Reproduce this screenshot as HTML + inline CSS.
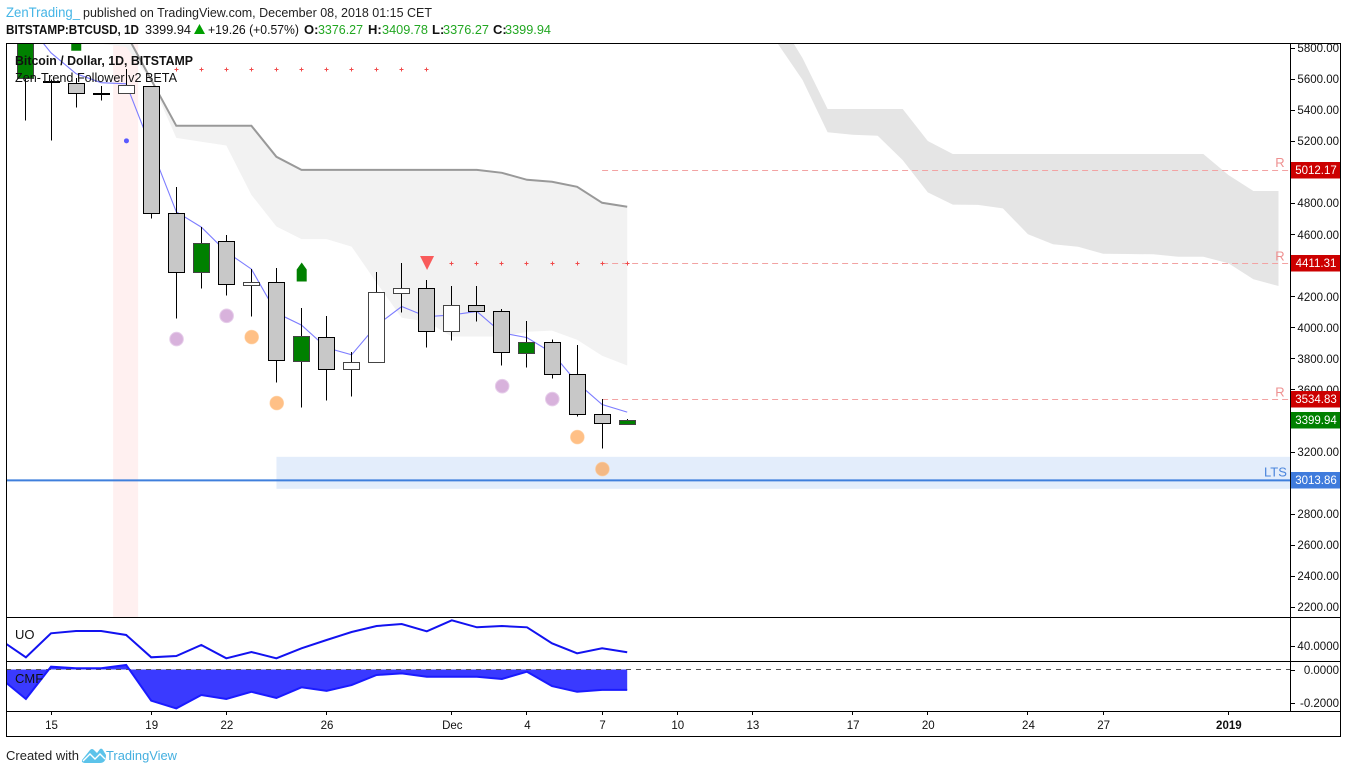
<!DOCTYPE html>
<html lang="en">
<head>
<meta charset="utf-8">
<title>BTCUSD chart</title>
<style>
html,body{margin:0;padding:0;background:#fff;width:1348px;height:773px;overflow:hidden}
svg{display:block;font-family:"Liberation Sans",Arial,sans-serif}
</style>
</head>
<body>
<svg id="chart" xmlns="http://www.w3.org/2000/svg" width="1348" height="773" viewBox="0 0 1348 773">
  <defs>
    <clipPath id="clip-main"><rect x="7" y="44" width="1283" height="573"/></clipPath>
    <clipPath id="clip-uo"><rect x="7" y="618" width="1283" height="43"/></clipPath>
    <clipPath id="clip-cmf"><rect x="7" y="662" width="1283" height="49"/></clipPath>
  </defs>
  <rect width="1348" height="773" fill="#ffffff"/>
  <g id="main" clip-path="url(#clip-main)"></g>
  <g id="uo" clip-path="url(#clip-uo)"></g>
  <g id="cmf" clip-path="url(#clip-cmf)"></g>
  <g fill="none" stroke="#000" stroke-width="1" shape-rendering="crispEdges">
    <rect x="6.5" y="43.5" width="1334" height="693"/>
    <line x1="1290.5" y1="43" x2="1290.5" y2="711"/>
    <line x1="6" y1="617.5" x2="1341" y2="617.5"/>
    <line x1="6" y1="661.5" x2="1341" y2="661.5"/>
    <line x1="6" y1="711.5" x2="1341" y2="711.5"/>
  </g>
  <g id="yaxis"></g>
  <g id="xaxis"></g>
  <g id="tags"></g>

  <g font-size="13">
    <text x="6" y="17" fill="#45b5e6" font-size="13.5" textLength="74" lengthAdjust="spacingAndGlyphs">ZenTrading_</text>
    <text x="83" y="17" fill="#222" textLength="349" lengthAdjust="spacingAndGlyphs">published on TradingView.com, December 08, 2018 01:15 CET</text>
    <text x="6" y="34" font-weight="bold" fill="#111" textLength="133" lengthAdjust="spacingAndGlyphs">BITSTAMP:BTCUSD, 1D</text>
    <text x="145" y="34" fill="#111" textLength="46" lengthAdjust="spacingAndGlyphs">3399.94</text>
    <polygon points="194,34 199.5,24 205,34" fill="#00a000"/>
    <text x="208" y="34" fill="#111" textLength="91" lengthAdjust="spacingAndGlyphs">+19.26 (+0.57%)</text>
    <text x="304" y="34" font-weight="bold" fill="#111">O:</text>
    <text x="318" y="34" fill="#22a722" textLength="45" lengthAdjust="spacingAndGlyphs">3376.27</text>
    <text x="368" y="34" font-weight="bold" fill="#111">H:</text>
    <text x="382" y="34" fill="#22a722" textLength="46" lengthAdjust="spacingAndGlyphs">3409.78</text>
    <text x="432" y="34" font-weight="bold" fill="#111">L:</text>
    <text x="443" y="34" fill="#22a722" textLength="46" lengthAdjust="spacingAndGlyphs">3376.27</text>
    <text x="493" y="34" font-weight="bold" fill="#111">C:</text>
    <text x="505" y="34" fill="#22a722" textLength="46" lengthAdjust="spacingAndGlyphs">3399.94</text>
  </g>

  <g font-size="13" fill="#111">
    <text x="15" y="65" font-weight="bold" textLength="178" lengthAdjust="spacingAndGlyphs">Bitcoin / Dollar, 1D, BITSTAMP</text>
    <text x="15" y="82" textLength="162" lengthAdjust="spacingAndGlyphs">Zen-Trend Follower v2 BETA</text>
    <text x="15" y="639">UO</text>
    <text x="15" y="683">CMF</text>
  </g>

  <g>
    <text x="6" y="760" font-size="13" fill="#222" textLength="73" lengthAdjust="spacingAndGlyphs">Created with</text>
    <path d="M82 760 L90 750 Q92 748 94 750 L97 753 L100 749 Q102 748 103 750 L106 755 Q106 763 100 763 L86 763 Q81 763 82 760 Z" fill="#5cc3ea"/>
    <path d="M83 761 L90 754 L95 759 L100 754 L105 759" fill="none" stroke="#ffffff" stroke-width="1.4"/>
    <text x="106" y="760" font-size="13" fill="#45b0e0" textLength="71" lengthAdjust="spacingAndGlyphs">TradingView</text>
  </g>
</svg>

<script>
// ---- Price series (day index 0 = Nov 14, 2018) ----
const opens  = [5607,5589,5573,5512,5508,5553,4736,4355,4555,4272,4291,3782,3937,3731,3776,4220,4253,3976,4143,4104,3834,3905,3699,3441,3376.27];
const highs  = [6200,5595,5607,5555,5663,5553,4905,4645,4594,4375,4381,4124,4072,3840,4355,4415,4306,4267,4267,4119,4042,3920,3887,3538,3409.78];
const lows   = [5332,5203,5416,5461,5508,4701,4057,4250,4205,4070,3644,3484,3529,3554,3776,4095,3870,3915,4037,3754,3741,3670,3426,3218,3376.27];
const closes = [6100,5589,5508,5512,5560,4736,4355,4542,4278,4291,3789,3943,3731,3776,4227,4253,3976,4143,4104,3840,3905,3699,3441,3383,3399.94];
const candleKinds = ['signal','down','down','down','up','down','down','signal','down','up','down','signal','down','up','up','up','down','up','down','down','signal','down','down','down','signal'];

// Thin blue trend line
const trendLine = [5967,5768,5633,5575,5568,5156,4744,4645,4486,4375,4093,4014,3868,3823,4013,4134,4068,4080,4102,3963,3934,3836,3643,3503,3454];

// Past cloud, day index starts at 2
const cloudPastStart = 2;
const cloudPastUpper = [6200,6045,5890,5594,5298,5298,5298,5298,5098,5014,5014,5014,5014,5014,5014,5014,5014,4995,4950,4937,4905,4802,4776];
const cloudPastLower = [5860,5826,5806,5587,5220,5195,5171,4853,4649,4568,4568,4520,4287,4061,4037,3941,3941,3941,3971,3979,3920,3817,3754];

// Future cloud, day index starts at 30
const cloudFutureStart = 30;
const cloudFutureUpper = [5998,5734,5406,5406,5406,5406,5200,5116,5116,5116,5116,5116,5116,5116,5116,5116,5116,5116,4981,4878,4878];
const cloudFutureLower = [5829,5593,5256,5240,5234,5077,4869,4790,4788,4766,4599,4535,4519,4474,4472,4470,4455,4455,4412,4309,4266];

// Markers
const redPlusTop = [6,7,8,9,10,11,12,13,14,15,16];
const redPlusTopPrice = 5665;
const redPlusLow = [17,18,19,20,21,22,23,24];
const redPlusLowPrice = 4416;
const purpleDays = [6,8,19,21];
const purplePrices = [3924,4074,3621,3538];
const orangeDays = [9,10,22,23];
const orangePrices = [3937,3512,3293,3087];
const blueDotDay = 4;
const blueDotPrice = 5201;
const greenArrowDays = [2,11];
const greenArrowPrices = [5781,4295];
const sellTriangleDay = 16;
const sellTrianglePrice = 4459;
const highlightDay = 4;

// Levels
const resistanceLevels = [5012.17,4411.31,3534.83];
const resistanceStartDay = 23;
const ltsLevel = 3013.86;
const ltsBandTop = 3166;
const ltsBandBottom = 2960;
const ltsBandStartDay = 10;
const lastClose = 3399.94;

// Indicators (day index starts at -1)
const uoValues = [47.6,24.9,56.9,60,60,54.7,24.9,26.7,41.3,23.6,32,23.6,36.9,48,58.7,66.7,69.3,59.6,74.3,64.9,66.7,64.9,43.6,30.3,36.9,31.6];
const cmfValues = [-0.054,-0.176,0.017,0.007,0.007,0.027,-0.186,-0.232,-0.152,-0.176,-0.133,-0.170,-0.106,-0.128,-0.093,-0.033,-0.023,-0.043,-0.043,-0.043,-0.057,-0.013,-0.099,-0.133,-0.122,-0.122];

// Axis labels
const priceTicks = [5800,5600,5400,5200,5000,4800,4600,4400,4200,4000,3800,3600,3400,3200,3000,2800,2600,2400,2200];
const timeLabels = ['15','19','22','26','Dec','4','7','10','13','17','20','24','27','2019'];
const timeLabelDays = [1,5,8,12,17,20,23,26,29,33,36,40,43,48];
const uoTicks = [40];
const cmfTicks = [0,-0.2];

// ---- Axis functions ----
function xOf(day){ return 25.95 + 25.05*day; }
function pxOf(day){ return Math.floor(xOf(day)) + 0.5; }
function yOf(price){ return 47.8 + (5800-price)*0.15528; }
function yUo(v){ return 646 - (v-40)*0.75; }
function yCmf(v){ return 669.5 - v*167.5; }

const NS = 'http://www.w3.org/2000/svg';
function mk(tag, parent, props){
  const el = document.createElementNS(NS, tag);
  for (const k in props) el.setAttribute(k, props[k]);
  parent.appendChild(el);
  return el;
}
const main = document.getElementById('main');
const uo = document.getElementById('uo');
const cmf = document.getElementById('cmf');
const yaxis = document.getElementById('yaxis');
const xaxis = document.getElementById('xaxis');
const tags = document.getElementById('tags');

function bandPoints(start, upper, lower){
  const a = upper.map((v,i)=>xOf(start+i).toFixed(1)+','+yOf(v).toFixed(1));
  const b = lower.map((v,i)=>xOf(start+i).toFixed(1)+','+yOf(v).toFixed(1)).reverse();
  return a.concat(b).join(' ');
}

// Highlight band
{
  const el = mk('rect', main, {x:xOf(highlightDay)-13, y:44, width:25, height:573, fill:'#fff0f0'});
  
  
}
// LTS band
{
  const top = yOf(ltsBandTop);
  const el = mk('rect', main, {x:xOf(ltsBandStartDay), y:top, width:1290-xOf(ltsBandStartDay), height:yOf(ltsBandBottom)-top, fill:'#e3edfb'});
  
  
}
// Clouds
{
  const el = mk('polygon', main, {points:bandPoints(cloudPastStart, cloudPastUpper, cloudPastLower), fill:'#f2f2f2'});
  
  
}
{
  const el = mk('polygon', main, {points:bandPoints(cloudFutureStart, cloudFutureUpper, cloudFutureLower), fill:'#e5e5e5'});
  
  
}
{
  const pts = cloudPastUpper.map((v,i)=>xOf(cloudPastStart+i).toFixed(1)+','+yOf(v).toFixed(1)).join(' ');
  const el = mk('polyline', main, {points:pts, fill:'none', stroke:'#999999', 'stroke-width':2});
  
  
}
// Resistance lines
resistanceLevels.forEach(function(v){
  const el = mk('line', main, {x1:xOf(resistanceStartDay), x2:1290, y1:Math.floor(yOf(v))+0.5, y2:Math.floor(yOf(v))+0.5, stroke:'#f2a3a3', 'stroke-width':1, 'stroke-dasharray':'6 4'});
  
  
  const t = mk('text', main, {x:1280, y:yOf(v)-3, 'font-size':13, fill:'#ee9090', 'text-anchor':'middle'});
  t.textContent = 'R';
  
  
});
// LTS line
{
  const el = mk('line', main, {x1:6, x2:1290, y1:yOf(ltsLevel), y2:yOf(ltsLevel), stroke:'#3f7fdc', 'stroke-width':2});
  
  
  const t = mk('text', main, {x:1264, y:yOf(ltsLevel)-4, 'font-size':13, fill:'#4a85dc'});
  t.textContent = 'LTS';
  
  
}
// Trend line
{
  const pts = trendLine.map((v,i)=>xOf(i).toFixed(1)+','+yOf(v).toFixed(1)).join(' ');
  const el = mk('polyline', main, {points:pts, fill:'none', stroke:'#7c7cff', 'stroke-width':1.1});
  
  
}
// Candles
opens.forEach(function(o,i){
  const c = closes[i];
  const kind = candleKinds[i];
  const cx = pxOf(i);
  const wick = mk('line', main, {x1:cx, x2:cx, y1:yOf(highs[i]), y2:yOf(lows[i]), stroke:'#000', 'stroke-width':1, 'shape-rendering':'crispEdges'});
  
  
  const top = Math.round(yOf(Math.max(o,c)))+0.5;
  const bottom = Math.round(yOf(Math.min(o,c)))+0.5;
  const fill = kind==='signal' ? '#008000' : (kind==='up' ? '#ffffff' : '#c8c8c8');
  const stroke = kind==='down' ? '#000000' : '#444444';
  const body = mk('rect', main, {x:cx-8, y:top, width:16, height:Math.max(bottom-top,1), fill:fill, stroke:stroke, 'stroke-width':1, 'shape-rendering':'crispEdges'});
  
  
});
// Plus markers
function drawPlus(day, price){
  const x = Math.floor(xOf(day))+0.5, y = Math.round(yOf(price))+0.5;
  const el = mk('path', main, {d:'M'+(x-2)+' '+y+'H'+(x+2)+'M'+x+' '+(y-2)+'V'+(y+2), stroke:'#f04a4a', 'stroke-width':1, fill:'none', 'shape-rendering':'crispEdges'});
  
  
}
redPlusTop.forEach(function(d){ drawPlus(d, redPlusTopPrice); });
redPlusLow.forEach(function(d){ drawPlus(d, redPlusLowPrice); });
// Circle markers
purpleDays.forEach(function(d,i){
  const el = mk('circle', main, {cx:xOf(d)+0.3, cy:yOf(purplePrices[i]), r:6.8, fill:'#d8b2dc', stroke:'#e6cdea', 'stroke-width':1});
  
  
});
orangeDays.forEach(function(d,i){
  const el = mk('circle', main, {cx:xOf(d)+0.3, cy:yOf(orangePrices[i]), r:6.8, fill:'#ff9a3c', 'fill-opacity':0.62, stroke:'#ffc48c', 'stroke-opacity':0.6, 'stroke-width':1});
  
  
});
{
  const el = mk('circle', main, {cx:xOf(blueDotDay)+0.3, cy:yOf(blueDotPrice), r:2.5, fill:'#5a5aff'});
  
  
}
// Green arrows
greenArrowDays.forEach(function(d,i){
  const x = xOf(d)+0.2, b = yOf(greenArrowPrices[i]);
  const el = mk('polygon', main, {points:(x-5)+','+b+' '+(x+5)+','+b+' '+(x+5)+','+(b-12)+' '+x+','+(b-19)+' '+(x-5)+','+(b-12), fill:'#008000'});
  
  
});
// Sell triangle
{
  const x = xOf(sellTriangleDay)+0.3, t = yOf(sellTrianglePrice);
  const el = mk('polygon', main, {points:(x-7)+','+t+' '+(x+7)+','+t+' '+x+','+(t+14), fill:'#f95b5b'});
  
  
}

// UO line
{
  const pts = uoValues.map((v,i)=>xOf(i-1).toFixed(1)+','+yUo(v).toFixed(1)).join(' ');
  const el = mk('polyline', uo, {points:pts, fill:'none', stroke:'#1212f0', 'stroke-width':2});
  
  
}
// CMF
{
  const pts = cmfValues.map((v,i)=>xOf(i-1).toFixed(1)+','+yCmf(v).toFixed(1));
  const lastX = xOf(cmfValues.length-2).toFixed(1);
  const firstX = xOf(-1).toFixed(1);
  const area = mk('polygon', cmf, {points:firstX+','+yCmf(0)+' '+pts.join(' ')+' '+lastX+','+yCmf(0), fill:'#3a3aff'});
  
  
  const zero = mk('line', cmf, {x1:6, x2:1290, y1:yCmf(0), y2:yCmf(0), stroke:'#555', 'stroke-width':1, 'stroke-dasharray':'5 5', 'shape-rendering':'crispEdges'});
  
  
  const line = mk('polyline', cmf, {points:pts.join(' '), fill:'none', stroke:'#1a1aff', 'stroke-width':2});
  
  
}

// Price axis
function axisLabel(y, label){
  const tick = mk('line', yaxis, {x1:1290, x2:1295, y1:Math.round(y)+0.5, y2:Math.round(y)+0.5, stroke:'#000', 'stroke-width':1, 'shape-rendering':'crispEdges'});
  
  
  const t = mk('text', yaxis, {x:1339, y:Math.round(y+0.4)+4, 'font-size':11.5, fill:'#111', 'text-anchor':'end'});
  t.textContent = label;
  
  
}
priceTicks.forEach(function(v){ axisLabel(yOf(v), v.toFixed(2)); });
uoTicks.forEach(function(v){ axisLabel(yUo(v), v.toFixed(4)); });
cmfTicks.forEach(function(v){ axisLabel(yCmf(v), v.toFixed(4)); });

// Time axis
timeLabels.forEach(function(label,i){
  const x = xOf(timeLabelDays[i]);
  const tick = mk('line', xaxis, {x1:Math.floor(x)+0.5, x2:Math.floor(x)+0.5, y1:711, y2:715, stroke:'#000', 'stroke-width':1, 'shape-rendering':'crispEdges'});
  
  
  const t = mk('text', xaxis, {x:x+0.5, y:729, 'font-size':11.5, fill:'#111', 'text-anchor':'middle', 'font-weight':label==='2019'?'bold':'normal'});
  t.textContent = label;
  
  
});

// Price tags
function drawTag(level, color){
  const y = yOf(level);
  const r = mk('rect', tags, {x:1291, y:Math.floor(y)-8, width:49, height:16.5, fill:color});
  
  
  const t = mk('text', tags, {x:1316, y:Math.floor(y)+4, 'font-size':11.5, fill:'#ffffff', 'text-anchor':'middle'});
  t.textContent = level.toFixed(2);
  
  
}
resistanceLevels.forEach(function(v){ drawTag(v, '#cc0000'); });
drawTag(lastClose, '#008000');
drawTag(ltsLevel, '#3f7bdc');
</script>
</body>
</html>
